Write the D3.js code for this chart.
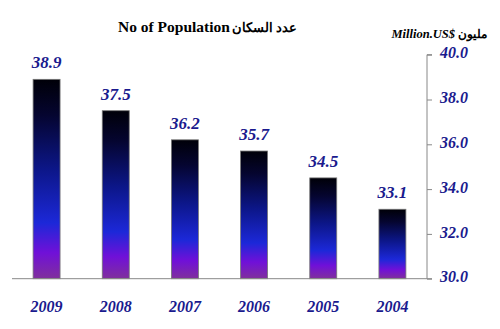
<!DOCTYPE html>
<html><head><meta charset="utf-8">
<script src="https://cdn.jsdelivr.net/npm/d3@7"></script>
<style>body{margin:0;background:#fff}svg{display:block}
text{font-family:"Liberation Serif","Times New Roman",serif}</style>
</head><body>
<svg id="c" width="500" height="329"></svg>
<script>
const years = ["2009","2008","2007","2006","2005","2004"];
const values = [38.9, 37.5, 36.2, 35.7, 34.5, 33.1];
const yTicks = [30, 32, 34, 36, 38, 40];
const titleLatin = "No of Population";
const titleArabic = "عدد السكان";
const unitArabic = "مليون";
const unitLatin = "Million.US$";

const svg = d3.select("#c");
const pL = 12, pR = 427, pT = 54.7, pB = 278.7;
const x = d3.scaleBand().domain(years).range([pL, pR]).paddingInner(0.61).paddingOuter(0.305);
const y = d3.scaleLinear().domain([30, 40]).range([pB, pT]);

const defs = svg.append("defs");
const g = defs.append("linearGradient").attr("id","bg").attr("x1",0).attr("y1",0).attr("x2",0).attr("y2",1);
[[0,"#000008"],[0.18,"#050530"],[0.45,"#0c1688"],[0.72,"#1c28d8"],[0.87,"#7010d8"],[1,"#80309c"]]
  .forEach(([o,c])=>g.append("stop").attr("offset",o).attr("stop-color",c));

const blue = "#1a1a8e";

svg.append("text").attr("x",118).attr("y",32)
  .attr("font-weight","bold").attr("font-size",15.5).attr("fill","#000").text(titleLatin);
svg.append("text").attr("x",297).attr("y",32).attr("text-anchor","end")
  .attr("font-weight","bold").attr("font-size",13).attr("fill","#000").text(titleArabic);
svg.append("text").attr("x",487).attr("y",38).attr("text-anchor","end")
  .attr("font-weight","bold").attr("font-size",12).attr("fill","#000").text(unitArabic);
svg.append("text").attr("x",455).attr("y",38).attr("text-anchor","end")
  .attr("font-weight","bold").attr("font-style","italic").attr("font-size",12.5).attr("fill","#000").text(unitLatin);

svg.selectAll("rect.bar").data(values).join("rect").attr("class","bar")
  .attr("x",(d,i)=>x(years[i])).attr("width",x.bandwidth())
  .attr("y",d=>y(d)).attr("height",d=>pB-y(d))
  .attr("fill","url(#bg)").attr("stroke","#777").attr("stroke-width",0.8);

svg.selectAll("text.val").data(values).join("text").attr("class","val")
  .attr("x",(d,i)=>x(years[i])+x.bandwidth()/2).attr("y",d=>y(d)-11)
  .attr("text-anchor","middle").attr("font-weight","bold").attr("font-style","italic")
  .attr("font-size",17).attr("fill",blue).text(d=>d.toFixed(1));

svg.append("line").attr("x1",pL).attr("x2",pR).attr("y1",pB).attr("y2",pB).attr("stroke","#888").attr("stroke-width",1);

const ax = d3.axisRight(y).tickValues(yTicks).tickSize(5).tickPadding(8).tickFormat(d3.format(".1f"));
const axg = svg.append("g").attr("transform",`translate(${pR},0)`).call(ax);
axg.attr("font-family",null);
axg.select(".domain").attr("stroke","#888").attr("d",`M5,${pT}H0V${pB}H5`);
axg.selectAll(".tick line").attr("stroke","#888");
axg.selectAll(".tick text").attr("font-weight","bold").attr("font-style","italic")
  .attr("font-size",16).attr("fill",blue).attr("dy","0.2em");

const xa = d3.axisBottom(x).tickSize(0).tickPadding(22);
const xg = svg.append("g").attr("transform",`translate(0,${pB})`).call(xa);
xg.attr("font-family",null);
xg.select(".domain").remove();
xg.selectAll(".tick text").attr("font-weight","bold").attr("font-style","italic")
  .attr("font-size",16).attr("fill",blue);
</script>
</body></html>
